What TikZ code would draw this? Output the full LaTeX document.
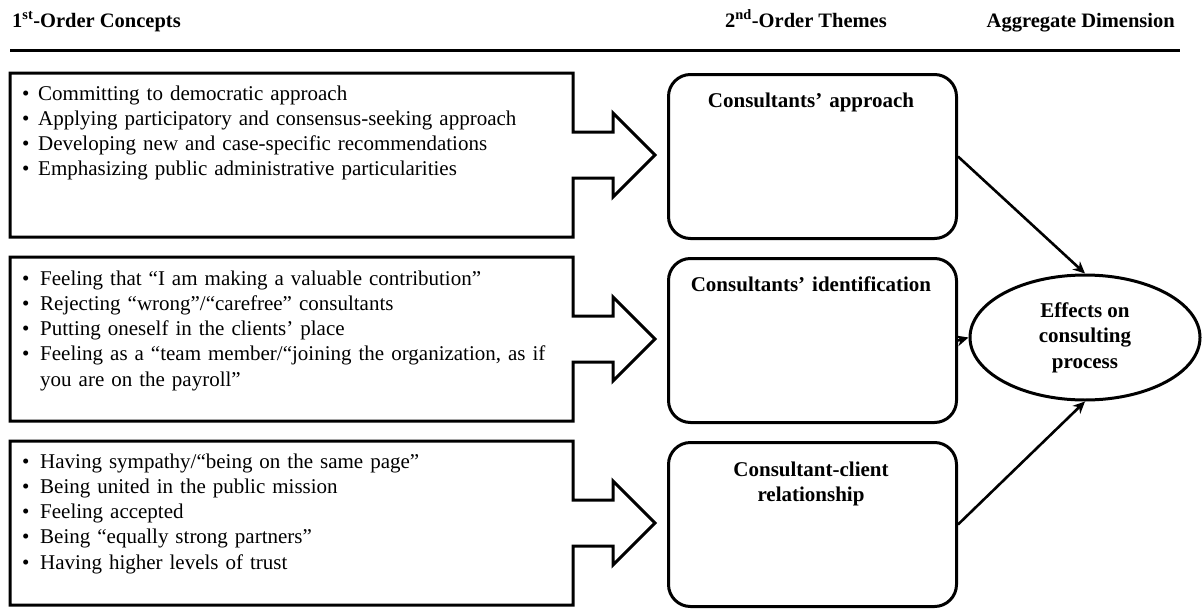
\documentclass[tikz,border=0pt]{standalone}
\usepackage{fontspec}
\setmainfont{Liberation Serif}
\usetikzlibrary{arrows.meta,shapes.geometric}

% bullet item with hanging indent, ended by its own \par
\newlength\bulletgap
\setlength\bulletgap{16pt}
\newcommand\itm[1]{\hangindent=\bulletgap\hangafter=1\noindent\makebox[\bulletgap][l]{•}#1\par}

% rectangle with a right-pointing arrow on its right side
\newcommand\calloutbox[2]{%
  \pgfmathsetmacro\cmid{(#1+#2)/2}%
  \draw[outline] (10,#1) -- (573,#1) -- (573,\cmid-23) -- (613,\cmid-23)
    -- (613,\cmid-42) -- (655,\cmid) -- (613,\cmid+42) -- (613,\cmid+23)
    -- (573,\cmid+23) -- (573,#2) -- (10,#2) -- cycle;}

\begin{document}
\begin{tikzpicture}[x=1pt,y=-1pt,
  outline/.style={line width=3pt, line join=miter},
  header/.style={inner sep=0pt, font=\fontsize{20.5}{24}\selectfont\bfseries},
  listtext/.style={inner sep=0pt, text width=545pt, align=left, anchor=base west,
    font=\fontsize{21}{25.3}\selectfont},
  theme/.style={draw, line width=3pt, rounded corners=22pt, minimum width=288pt,
    minimum height=164pt, inner sep=0pt, anchor=north west},
  themetitle/.style={inner sep=0pt, text width=280pt, align=center, anchor=base,
    font=\fontsize{21}{25}\selectfont\bfseries},
  aggregate/.style={draw, ellipse, line width=3pt, minimum width=230pt, minimum height=125pt,
    inner sep=0pt, align=center, font=\fontsize{21}{25.5}\selectfont\bfseries},
  conn/.style={line width=2.6pt, -{Stealth[length=12pt,width=11pt]}}]

\fill[white] (0,0) rectangle (1202,608);
\useasboundingbox (0,0) rectangle (1202,608);

% column headers and rule
\node[header, anchor=base west] (h1) at (12,27) {1\textsuperscript{st}-Order Concepts};
\node[header, anchor=base east] (h2) at (887,27) {2\textsuperscript{nd}-Order Themes};
\node[header, anchor=base east] (h3) at (1175,27) {Aggregate Dimension};
\coordinate (ruleL) at (10,50);
\coordinate (ruleR) at (1180,50);
\draw[line width=3pt] (ruleL) -- (ruleR);

% first-order concepts
\calloutbox{73}{237}
\calloutbox{257}{421}
\calloutbox{441}{605}

\node[listtext] (c1) at (22,100) {%
  \itm{Committing to democratic approach}%
  \itm{Applying participatory and consensus-seeking approach}%
  \itm{Developing new and case-specific recommendations}%
  \itm{Emphasizing public administrative particularities}};

\node[listtext] (c2) at (22,285) {\setlength\bulletgap{18pt}%
  \itm{Feeling that “I am making a valuable contribution”}%
  \itm{Rejecting “wrong”/“carefree” consultants}%
  \itm{Putting oneself in the clients’ place}%
  \itm{Feeling as a “team member/“joining the organization, as if\newline you are on the payroll”}};

\node[listtext] (c3) at (22,468) {\setlength\bulletgap{18pt}%
  \itm{Having sympathy/“being on the same page”}%
  \itm{Being united in the public mission}%
  \itm{Feeling accepted}%
  \itm{Being “equally strong partners”}%
  \itm{Having higher levels of trust}};

% second-order themes
\node[theme] (r1) at (667,73) {};
\node[theme] (r2) at (667,257) {};
\node[theme] (r3) at (667,441) {};
\node[themetitle] (t1) at (811,107) {Consultants’ approach};
\node[themetitle] (t2) at (811,291) {Consultants’ identification};
\node[themetitle] (t3) at (811,476) {Consultant-client\\relationship};

% aggregate dimension
\node[aggregate] (eff) at (1085,337.5) {Effects on\\consulting\\process};

\draw[conn] (r1.east) -- (eff.north);
\draw[conn] (r2.east) -- (eff.west);
\draw[conn] (r3.east) -- (eff.south);
\end{tikzpicture}
\end{document}
